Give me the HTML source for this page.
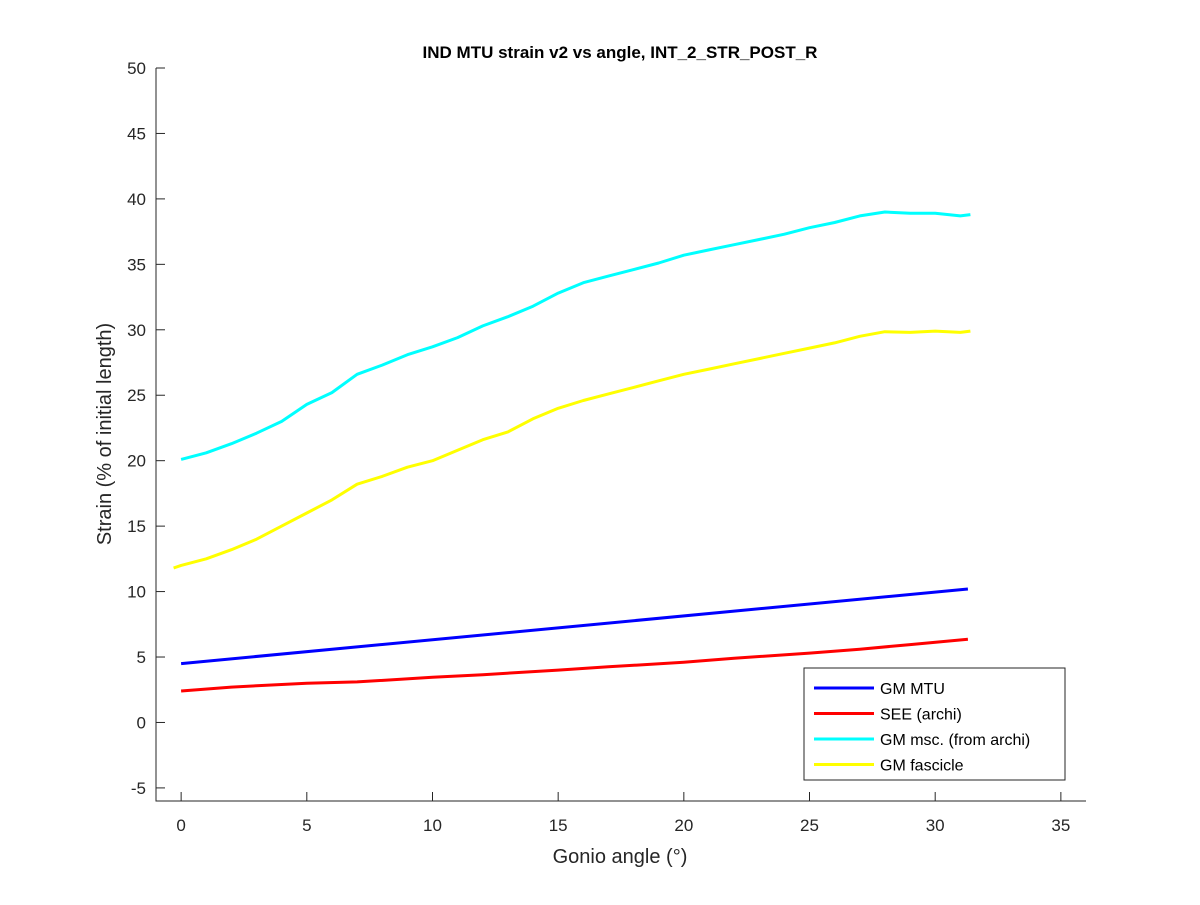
<!DOCTYPE html>
<html><head><meta charset="utf-8"><style>
body{margin:0;background:#fff}
svg{font-family:"Liberation Sans",Arial,sans-serif}
</style></head><body>
<svg id="c" width="1200" height="900"></svg>
<script>
const xTicks=[0,5,10,15,20,25,30,35];
const yTicks=[-5,0,5,10,15,20,25,30,35,40,45,50];
const mtuX=[0,31.3];
const mtuY=[4.5,10.2];
const seeX=[0,2,5,7,10,12,15,17,20,22,25,27,29,31.3];
const seeY=[2.4,2.7,3.0,3.1,3.45,3.65,4.0,4.25,4.6,4.9,5.3,5.6,5.95,6.35];
const mscX=[0,1,2,3,4,5,6,7,8,9,10,11,12,13,14,15,16,17,18,19,20,21,22,23,24,25,26,27,28,29,30,31,31.4];
const mscY=[20.1,20.6,21.3,22.1,23,24.3,25.2,26.6,27.3,28.1,28.7,29.4,30.3,31,31.8,32.8,33.6,34.1,34.6,35.1,35.7,36.1,36.5,36.9,37.3,37.8,38.2,38.7,39.0,38.9,38.9,38.7,38.8];
const fasX=[-0.3,0,1,2,3,4,5,6,7,8,9,10,11,12,13,14,15,16,17,18,19,20,21,22,23,24,25,26,27,28,29,30,31,31.4];
const fasY=[11.8,12,12.5,13.2,14,15,16,17,18.2,18.8,19.5,20,20.8,21.6,22.2,23.2,24,24.6,25.1,25.6,26.1,26.6,27,27.4,27.8,28.2,28.6,29,29.5,29.85,29.8,29.9,29.8,29.9];
const X0=156,X1=1086,Y0=68,Y1=801,xmin=-1,xmax=36,ymin=-6,ymax=50;
const sx=v=>X0+(v-xmin)/(xmax-xmin)*(X1-X0);
const sy=v=>Y1-(v-ymin)/(ymax-ymin)*(Y1-Y0);
const svg=document.getElementById('c');const NS='http://www.w3.org/2000/svg';
function mk(t,a,p){const e=document.createElementNS(NS,t);for(const k in a)e.setAttribute(k,a[k]);(p||svg).appendChild(e);return e;}
let e;
e=mk('path',{d:`M${X0},${Y0}V${Y1}H${X1}`,fill:'none',stroke:'#262626','stroke-width':1});


xTicks.forEach(t=>{mk('line',{x1:sx(t),x2:sx(t),y1:Y1,y2:Y1-9,stroke:'#262626'});
 e=mk('text',{x:sx(t),y:Y1+30,'text-anchor':'middle','font-size':17,fill:'#262626'});e.textContent=t;
 
 });
yTicks.forEach(t=>{mk('line',{x1:X0,x2:X0+9,y1:sy(t),y2:sy(t),stroke:'#262626'});
 e=mk('text',{x:X0-10,y:sy(t)+6,'text-anchor':'end','font-size':17,fill:'#262626'});e.textContent=t;
 
 });
function line(xs,ys,c,n){const d=xs.map((x,i)=>(i?'L':'M')+sx(x).toFixed(1)+','+sy(ys[i]).toFixed(1)).join('');
 const p=mk('path',{d,fill:'none',stroke:c,'stroke-width':3,'stroke-linejoin':'round'});
 
 }
line(mtuX,mtuY,'#0000ff','gm-mtu-line');
line(seeX,seeY,'#ff0000','see-line');
line(mscX,mscY,'#00ffff','gm-msc-line');
line(fasX,fasY,'#ffff00','gm-fascicle-line');
e=mk('text',{x:620,y:58,'text-anchor':'middle','font-size':17,'font-weight':'bold',fill:'#000'});e.textContent='IND MTU strain v2 vs angle, INT_2_STR_POST_R';


e=mk('text',{x:620,y:863,'text-anchor':'middle','font-size':20,fill:'#262626'});e.textContent='Gonio angle (°)';


e=mk('text',{x:111,y:434,'text-anchor':'middle','font-size':20,fill:'#262626',transform:'rotate(-90 111 434)'});e.textContent='Strain (% of initial length)';


const g=mk('g',{});


mk('rect',{x:804,y:668,width:261,height:112,fill:'#fff',stroke:'#262626'},g);
[['GM MTU','#0000ff'],['SEE (archi)','#ff0000'],['GM msc. (from archi)','#00ffff'],['GM fascicle','#ffff00']].forEach((l,i)=>{
 const y=688+i*25.5;
 mk('line',{x1:814,x2:874,y1:y,y2:y,stroke:l[1],'stroke-width':3},g);
 const t=mk('text',{x:880,y:y+6,'font-size':16,fill:'#000'},g);t.textContent=l[0];
 
 });
</script>
</body></html>
